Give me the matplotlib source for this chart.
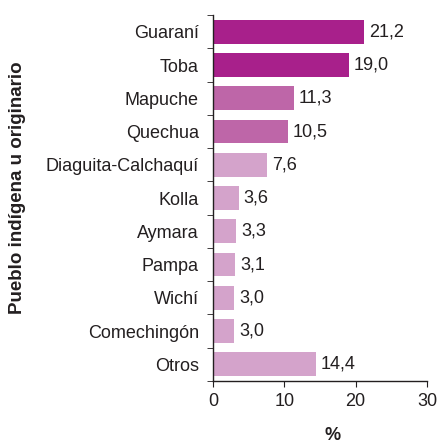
import matplotlib
matplotlib.use("Agg")
import matplotlib.pyplot as plt
import numpy as np

# --- Daten ------------------------------------------------------------------
pueblos = ["Guaraní", "Toba", "Mapuche", "Quechua", "Diaguita-Calchaquí",
           "Kolla", "Aymara", "Pampa", "Wichí", "Comechingón", "Otros"]
porcentaje = [21.2, 19.0, 11.3, 10.5, 7.6, 3.6, 3.3, 3.1, 3.0, 3.0, 14.4]
etiquetas = ["21,2", "19,0", "11,3", "10,5", "7,6", "3,6", "3,3", "3,1", "3,0", "3,0", "14,4"]
x_ticks = [0, 10, 20, 30]

# drei Farbstufen
DARK, MID, LIGHT = "#A8208B", "#BE66A8", "#D4A3CB"
colores = [DARK, DARK, MID, MID] + [LIGHT] * 7
TXT = "#231f20"

plt.rcParams["font.family"] = ["Liberation Sans", "DejaVu Sans"]
plt.rcParams["font.size"] = 13

fig = plt.figure(figsize=(4.38, 4.46), dpi=100)
ax = fig.add_axes([0.486, 0.146, 0.489, 0.820])

y = np.arange(len(pueblos))
ax.barh(y, porcentaje, height=0.72, color=colores)
for yi, v, t in zip(y, porcentaje, etiquetas):
    ax.text(v + 0.7, yi, t, va="center", ha="left", color=TXT)

ax.set_ylim(len(pueblos) - 0.5, -0.5)
ax.set_xlim(0, 30)
ax.set_xticks(x_ticks)
ax.set_xticklabels([str(t) for t in x_ticks])
ax.set_yticks(y)
ax.set_yticklabels(pueblos)
ax.tick_params(axis="y", length=0, pad=10, colors=TXT)
ax.set_yticks(np.arange(len(pueblos) + 1) - 0.5, minor=True)
ax.tick_params(axis="y", which="minor", length=4, direction="out", color=TXT)
ax.tick_params(axis="x", length=4, direction="out", color=TXT, labelcolor=TXT, pad=5)

for s in ["top", "right"]:
    ax.spines[s].set_visible(False)
for s in ["left", "bottom"]:
    ax.spines[s].set_color(TXT)
    ax.spines[s].set_linewidth(1.0)

fig.text(0.76, 0.005, "%", ha="center", va="bottom", fontweight="bold", color=TXT)
fig.text(0.041, 0.58, "Pueblo indígena u originario", rotation=90, ha="center",
         va="center", fontweight="bold", color=TXT, fontsize=13.5)

fig.savefig("out.png", dpi=100)
